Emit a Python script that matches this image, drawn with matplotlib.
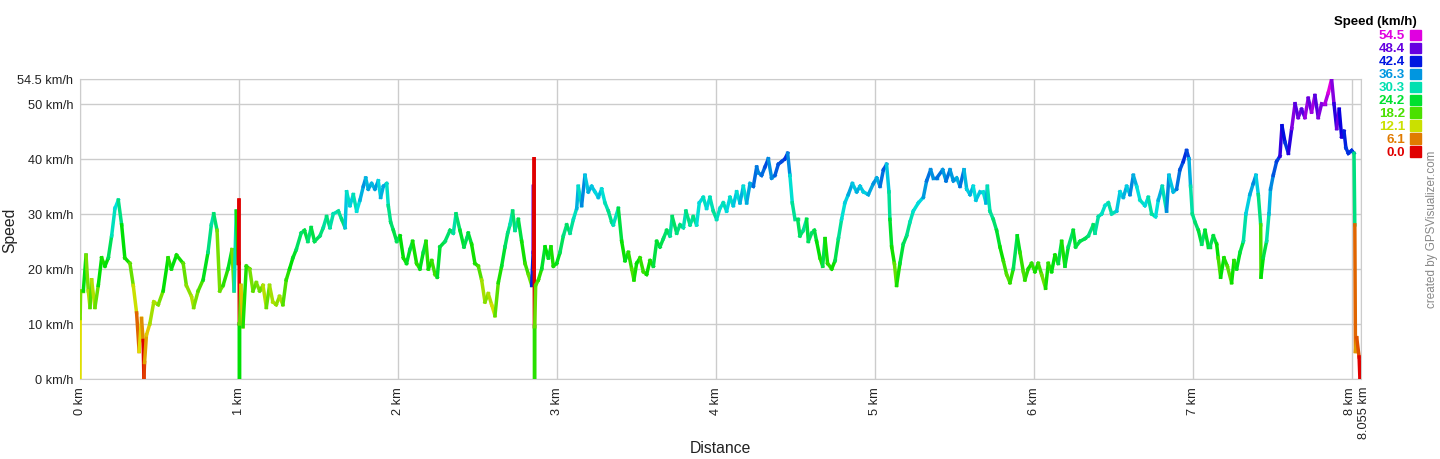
import numpy as np
import matplotlib
matplotlib.use('Agg')
import matplotlib.pyplot as plt
import matplotlib.transforms as mtransforms
from matplotlib.collections import LineCollection
from matplotlib.colors import hsv_to_rgb, ListedColormap, Normalize
from matplotlib.patches import Rectangle

plt.rcParams['font.family'] = ['Liberation Sans', 'DejaVu Sans']

# distance (km) and speed (km/h), km by km
dist_0 = [0.000, 0.001, 0.004, 0.021, 0.038, 0.052, 0.063, 0.073, 0.094, 0.115,
          0.136, 0.157, 0.178, 0.199, 0.220, 0.241, 0.262, 0.282, 0.314, 0.335,
          0.356, 0.372, 0.387, 0.397, 0.402, 0.406, 0.418, 0.439, 0.464, 0.492,
          0.523, 0.554, 0.575, 0.607, 0.649, 0.669, 0.701, 0.715, 0.743, 0.774,
          0.805, 0.826, 0.841, 0.862, 0.879, 0.900, 0.931, 0.956, 0.969, 0.983,
          0.996]
speed_0 = [0, 11, 16, 16, 22.5, 16, 13, 18, 13, 17,
           22, 20.5, 22, 26, 31, 32.5, 28, 22, 21, 17,
           12, 5, 11, 7, 0, 3, 8, 10, 14, 13.5,
           16, 22, 20, 22.5, 21, 17, 15, 13, 16, 18,
           23, 28, 30, 27, 16, 17, 20, 23.5, 16, 30.5,
           21]

dist_1 = [1.000, 1.001, 1.002, 1.003, 1.004, 1.012, 1.025, 1.046, 1.067, 1.088,
          1.109, 1.130, 1.151, 1.172, 1.192, 1.213, 1.234, 1.255, 1.276, 1.297,
          1.318, 1.339, 1.360, 1.391, 1.412, 1.433, 1.454, 1.475, 1.509, 1.530,
          1.551, 1.572, 1.593, 1.625, 1.646, 1.667, 1.677, 1.698, 1.719, 1.740,
          1.761, 1.782, 1.797, 1.813, 1.834, 1.855, 1.876, 1.891, 1.908, 1.929,
          1.939, 1.954, 1.971, 1.992]
speed_1 = [32.5, 21, 10, 0, 10, 17, 9.5, 20.5, 20, 16,
           17.5, 16, 17, 13, 17, 14, 13.5, 15, 13.5, 18,
           20, 22, 23.5, 26.5, 27, 25, 27.5, 25, 26, 27.5,
           29.5, 27.5, 30, 30.5, 29, 27.5, 34, 31.5, 33.5, 30.5,
           32.5, 35, 36.5, 34.5, 35.5, 34.5, 36, 33, 35, 35.5,
           31.5, 28.5, 27, 25]

dist_2 = [2.013, 2.034, 2.054, 2.075, 2.092, 2.117, 2.138, 2.159, 2.176, 2.191,
          2.212, 2.233, 2.247, 2.264, 2.296, 2.327, 2.348, 2.365, 2.390, 2.415,
          2.432, 2.442, 2.463, 2.484, 2.505, 2.526, 2.547, 2.568, 2.589, 2.610,
          2.631, 2.652, 2.673, 2.690, 2.704, 2.721, 2.736, 2.757, 2.778, 2.799,
          2.820, 2.841, 2.850, 2.852, 2.854, 2.856, 2.857, 2.858, 2.859, 2.860,
          2.866, 2.883, 2.904, 2.925, 2.946, 2.962, 2.977, 2.998]
speed_2 = [26, 22, 21, 23.5, 25, 21, 20, 23, 25, 20,
           21.5, 19, 18.5, 24, 25, 27, 26.5, 30, 27, 24,
           25.5, 26.5, 24.5, 21, 20.5, 18, 14, 15.5, 13.5, 11.5,
           17.5, 20.5, 24, 26.5, 28, 30.5, 27, 29, 25, 21,
           19, 17, 23, 35, 20, 40, 20, 9.5, 0, 9.5,
           17, 18, 20, 24, 22, 24, 20.5, 21]

dist_3 = [3.019, 3.040, 3.061, 3.082, 3.103, 3.124, 3.134, 3.155, 3.176, 3.197,
          3.218, 3.239, 3.260, 3.281, 3.302, 3.323, 3.344, 3.354, 3.386, 3.407,
          3.428, 3.449, 3.470, 3.484, 3.501, 3.522, 3.543, 3.564, 3.585, 3.606,
          3.627, 3.648, 3.669, 3.690, 3.711, 3.725, 3.753, 3.774, 3.795, 3.811,
          3.837, 3.857, 3.878, 3.895, 3.920, 3.941, 3.962, 3.983]
speed_3 = [23, 26, 28, 26.5, 29, 31, 35, 31.5, 37, 34,
           35, 34, 33, 34.5, 32, 30.5, 28.5, 28, 31, 25,
           21.5, 23, 20, 18, 21, 22, 19.5, 19, 21.5, 20.5,
           25, 24, 25.5, 27, 26, 29.5, 26.5, 28, 27.5, 30.5,
           28, 29.5, 28, 32, 33, 31, 33, 30.5]

dist_4 = [4.004, 4.025, 4.046, 4.067, 4.088, 4.109, 4.130, 4.151, 4.172, 4.193,
          4.214, 4.235, 4.256, 4.266, 4.287, 4.308, 4.329, 4.350, 4.371, 4.392,
          4.413, 4.434, 4.451, 4.465, 4.480, 4.497, 4.514, 4.528, 4.549, 4.570,
          4.581, 4.602, 4.619, 4.633, 4.654, 4.671, 4.686, 4.702, 4.728, 4.749,
          4.770, 4.790, 4.811, 4.832, 4.858, 4.885, 4.906, 4.927, 4.958, 4.990]
speed_4 = [29, 31, 32, 30.5, 33, 31.5, 34, 32, 35, 32,
           35.5, 35, 38.5, 37.5, 37, 38.5, 40, 36.5, 37, 39,
           39.5, 40, 41, 37, 32, 29, 29, 26, 27, 29,
           25, 26.5, 27, 25, 22, 20.5, 25.5, 21, 20, 21.5,
           25.5, 29, 32, 33.5, 35.5, 34, 35, 34, 33.5, 35.5]

dist_5 = [5.011, 5.032, 5.053, 5.073, 5.088, 5.094, 5.105, 5.122, 5.136, 5.157,
          5.178, 5.199, 5.220, 5.241, 5.273, 5.304, 5.325, 5.350, 5.367, 5.388,
          5.426, 5.447, 5.472, 5.493, 5.514, 5.535, 5.560, 5.577, 5.598, 5.618,
          5.635, 5.660, 5.681, 5.698, 5.707, 5.723, 5.744, 5.765, 5.786, 5.807,
          5.828, 5.849, 5.870, 5.895, 5.912, 5.933, 5.943, 5.964, 5.985]
speed_5 = [36.5, 35, 38, 39, 34, 29, 24, 21, 17, 21,
           24.5, 26, 28.5, 30.5, 32, 33, 36, 38, 36.5, 36.5,
           38, 36, 38, 36, 36.5, 35, 38, 34.5, 33.5, 35,
           32.5, 34, 34, 32, 35, 30.5, 29, 27, 24, 21.5,
           19, 17.5, 20, 26, 23, 19.5, 18, 20, 21]

dist_6 = [6.006, 6.027, 6.048, 6.073, 6.090, 6.111, 6.132, 6.153, 6.174, 6.195,
          6.216, 6.247, 6.262, 6.289, 6.321, 6.342, 6.373, 6.384, 6.405, 6.426,
          6.447, 6.468, 6.489, 6.520, 6.541, 6.562, 6.583, 6.604, 6.625, 6.646,
          6.667, 6.698, 6.719, 6.740, 6.765, 6.782, 6.807, 6.834, 6.849, 6.876,
          6.897, 6.918, 6.939, 6.960, 6.975, 6.985, 6.996]
speed_6 = [19.5, 21, 19, 16.5, 21, 19.5, 22.5, 21, 25, 20.5,
           24, 27, 24, 25, 25.5, 26, 28, 26.5, 29.5, 30,
           31.5, 32, 30, 30.5, 34, 33, 35, 33.5, 37, 35,
           32.5, 31.5, 33, 30, 29.5, 32.5, 35, 30.5, 37, 34,
           34.5, 38, 39.5, 41.5, 40, 35, 30]

dist_7 = [7.013, 7.034, 7.055, 7.076, 7.097, 7.107, 7.128, 7.149, 7.159, 7.174,
          7.195, 7.216, 7.243, 7.258, 7.275, 7.296, 7.317, 7.333, 7.358, 7.379,
          7.396, 7.411, 7.426, 7.428, 7.442, 7.463, 7.478, 7.488, 7.505, 7.526,
          7.547, 7.560, 7.579, 7.600, 7.621, 7.642, 7.662, 7.683, 7.704, 7.725,
          7.746, 7.767, 7.788, 7.809, 7.830, 7.851, 7.872, 7.887, 7.904, 7.920,
          7.935, 7.950, 7.962, 7.977, 7.998, 8.013, 8.018, 8.022, 8.030, 8.045,
          8.050, 8.055]
speed_7 = [28.5, 27, 24.5, 27, 24, 24, 26, 24.5, 22, 18.5,
           22, 20.5, 17.5, 21.5, 20, 23, 25, 30, 33.5, 35.5,
           37, 33.5, 28, 18.5, 22, 25, 30, 34.5, 37, 39.5,
           40.5, 46, 43, 41, 45.5, 50, 47.5, 49, 47.5, 51,
           48.5, 51.5, 47.5, 50, 50, 52, 54.5, 50, 45.5, 49,
           44, 45, 42, 41, 41.5, 41, 28, 5, 7.5, 4,
           0, 0]

# gps glitches: points coloured by another speed than the one plotted
tint_fix = {1.000: 0, 1.001: 0, 1.002: 0, 1.003: 22, 1.004: 22,
            2.850: 42, 2.852: 48, 2.854: 48, 2.856: 0, 2.857: 0, 2.858: 0,
            2.859: 20, 2.860: 20}

legend_vals = [54.5, 48.4, 42.4, 36.3, 30.3, 24.2, 18.2, 12.1, 6.1, 0.0]
yticks = [0, 10, 20, 30, 40, 50, 54.5]
xticks = [0, 1, 2, 3, 4, 5, 6, 7, 8, 8.055]

dist = np.array(dist_0 + dist_1 + dist_2 + dist_3 + dist_4 + dist_5 + dist_6 + dist_7)
speed = np.array(speed_0 + speed_1 + speed_2 + speed_3 + speed_4 + speed_5 + speed_6 + speed_7, float)
tint = speed.copy()
for d, v in tint_fix.items():
    tint[np.isclose(dist, d)] = v

# rainbow scale red -> magenta like the legend
hues = np.linspace(0, 300 / 360, 256)
cmap = ListedColormap(hsv_to_rgb(np.column_stack([hues, np.ones(256), 0.88 * np.ones(256)])))
norm = Normalize(0, 54.5)

fig = plt.figure(figsize=(14.4, 4.6), dpi=100)
ax = fig.add_axes([80 / 1440, 80 / 460, 1280.7 / 1440, 300 / 460])

pts = np.column_stack([dist, speed])
segs = np.stack([pts[:-1], pts[1:]], axis=1)
lc = LineCollection(segs, colors=cmap(norm(tint[1:])), linewidths=2.5, capstyle='projecting', zorder=3)
ax.add_collection(lc)

ax.set_xlim(0, 8.055)
ax.set_ylim(0, 54.5)
ax.set_xticks(xticks)
ax.set_xticklabels(['%g km' % t for t in xticks], rotation=90, va='top', ha='center')
ax.set_yticks(yticks)
ax.set_yticklabels(['%g km/h' % t for t in yticks])
ax.tick_params(length=0, pad=5, labelsize=9.2, colors='#222222')
ax.grid(True, color='#cccccc', lw=1, zorder=0)
for s in ax.spines.values():
    s.set_color('#cccccc')

# the last two distance labels sit side by side
xlabs = ax.get_xticklabels()
xlabs[-2].set_transform(xlabs[-2].get_transform() + mtransforms.ScaledTranslation(-2 / 100, 0, fig.dpi_scale_trans))
xlabs[-1].set_transform(xlabs[-1].get_transform() + mtransforms.ScaledTranslation(3 / 100, 0, fig.dpi_scale_trans))

fig.text(720 / 1440, 1 - 449 / 460, 'Distance', ha='center', va='center', fontsize=11.3, color='#222222')
fig.text(10 / 1440, 1 - 230 / 460, 'Speed', ha='center', va='center', rotation=90, fontsize=11.3, color='#222222')
fig.text(1432 / 1440, 1 - 229 / 460, 'created by GPSVisualizer.com', ha='center', va='center',
         rotation=90, fontsize=8.4, color='#888888')

# colour legend
fig.text(1375 / 1440, 1 - 21.7 / 460, 'Speed (km/h)', ha='center', va='center', fontsize=9.5,
         fontweight='bold', color='black')
for i, v in enumerate(legend_vals):
    yc = 36 + 12.96 * i
    c = cmap(norm(v))
    fig.text(1405 / 1440, 1 - yc / 460, '%.1f' % v, ha='right', va='center', fontsize=9.6,
             fontweight='bold', color=c)
    fig.patches.append(Rectangle((1409.5 / 1440, 1 - (yc + 5.3) / 460), 11.5 / 1440, 10.6 / 460,
                                 transform=fig.transFigure, color=c, figure=fig))

plt.savefig('out.png', dpi=100)
